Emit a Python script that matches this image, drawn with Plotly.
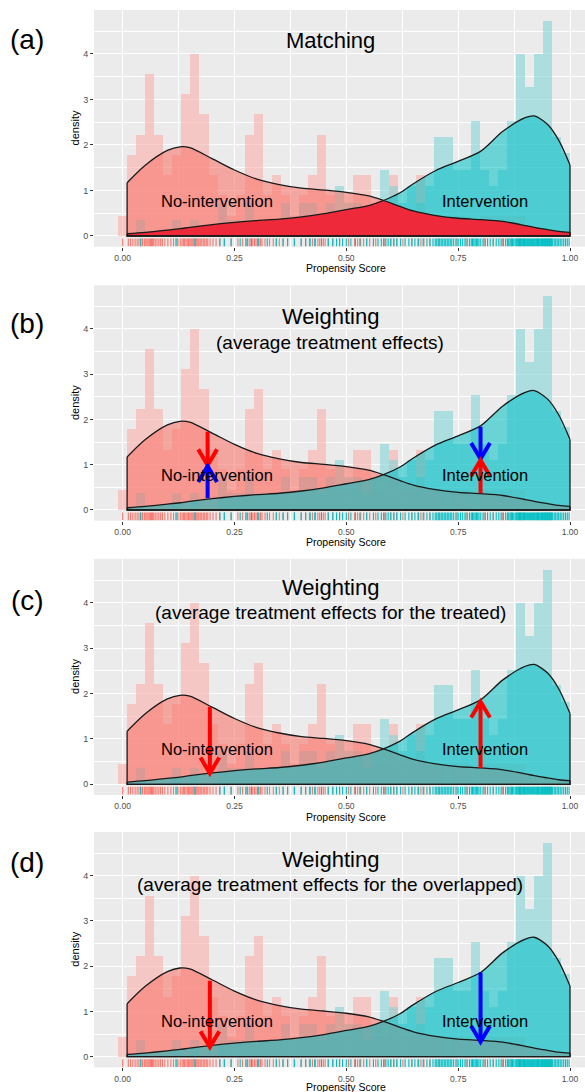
import numpy as np
import plotly.graph_objects as go

W, H = 585, 1092

# ---------------- data ----------------
BIN_START = -0.01
BIN_WIDTH = 0.0202

hist_no_intervention = [0.44, 1.78, 2.22, 3.55, 2.22, 1.33, 1.78, 3.11, 4.00, 2.67,
                        1.33, 0.89, 0.44, 0.89, 2.22, 2.67, 0.89, 1.33, 0.89, 0.44,
                        0.89, 1.33, 2.22, 0.89, 0.44, 0.44, 1.33, 1.33, 0.44, 0.44,
                        1.33, 0.44, 0.44, 1.33, 0.44, 0.44, 0.00, 0.44, 0.44, 0.00,
                        0.44, 0.44, 0.44, 0.44, 0.44, 0.00, 0.00, 0.00, 0.00, 0.00]
hist_intervention = [0.00, 0.00, 0.36, 0.00, 0.00, 0.00, 0.36, 0.00, 0.36, 0.00,
                     0.00, 0.73, 0.36, 0.36, 0.73, 0.36, 0.36, 0.36, 0.73, 0.36,
                     0.73, 0.73, 0.36, 0.73, 1.09, 0.73, 0.73, 0.36, 0.73, 1.45,
                     1.09, 0.73, 1.09, 0.73, 1.09, 2.18, 2.18, 1.45, 1.45, 2.53,
                     1.45, 1.09, 1.45, 2.53, 4.00, 3.27, 4.00, 4.73, 2.18, 1.82]
UNIT_NO = 0.444   # density of one observation (no-intervention)
UNIT_INT = 0.364  # density of one observation (intervention)

dens_x = [0.01, 0.05, 0.10, 0.128, 0.15, 0.20, 0.25, 0.30, 0.35, 0.40, 0.45, 0.50,
          0.55, 0.583, 0.62, 0.65, 0.70, 0.75, 0.80, 0.85, 0.90, 0.92, 0.95, 0.975, 1.00]
dens_no = [1.17, 1.55, 1.88, 1.96, 1.94, 1.70, 1.45, 1.25, 1.13, 1.05, 1.01, 0.96,
           0.88, 0.78, 0.65, 0.55, 0.45, 0.39, 0.36, 0.32, 0.23, 0.19, 0.14, 0.10, 0.08]
dens_int = [0.05, 0.08, 0.13, 0.16, 0.19, 0.25, 0.30, 0.34, 0.37, 0.42, 0.49, 0.58,
            0.67, 0.78, 0.95, 1.15, 1.44, 1.64, 1.86, 2.30, 2.60, 2.64, 2.45, 2.10, 1.56]

x_ticks = [0.0, 0.25, 0.5, 0.75, 1.0]
x_tick_labels = ["0.00", "0.25", "0.50", "0.75", "1.00"]
y_ticks = [0, 1, 2, 3, 4]
y_tick_labels = ["0", "1", "2", "3", "4"]

panel_letters = ["(a)", "(b)", "(c)", "(d)"]
panel_titles = ["Matching", "Weighting", "Weighting", "Weighting"]
panel_subtitles = ["", "(average treatment effects)",
                   "(average treatment effects for the treated)",
                   "(average treatment effects for the overlapped)"]

# arrows: (x, y_from, y_to, color)
arrows = {
    1: [(0.19, 1.73, 0.99, "red"), (0.19, 0.26, 0.97, "blue"),
        (0.80, 1.84, 1.13, "blue"), (0.80, 0.37, 1.10, "red")],
    2: [(0.195, 1.71, 0.24, "red"), (0.80, 0.36, 1.82, "red")],
    3: [(0.195, 1.68, 0.21, "red"), (0.80, 1.86, 0.33, "blue")],
}

# ---------------- geometry / style ----------------
XR = [-0.064, 1.0335]
YR = [-0.2365, 4.966]
PANEL_Y0 = [236, 510, 784.3, 1056.7]
PANEL_UNIT = [45.5, 45.25, 45.4, 45.25]
TITLE_Y = [41, 316, 587, 859]
SUB_Y = [None, 342, 612, 884]
LETTER_Y = [40, 323, 600, 862]
XTITLE_OFFSET = [21.5, 21.5, 21.5, 20.0]

FONT = "Liberation Sans, Arial, sans-serif"
PINK_FILL = "rgba(248,118,109,0.60)"
TEAL_FILL = "rgba(0,191,196,0.55)"
PINK_BAR = "rgba(250,172,167,0.58)"
TEAL_BAR = "rgba(125,212,214,0.58)"
OVERLAP_RED = "rgb(238,42,58)"
RUG_RED = "#F8766D"
RUG_TEAL = "#00BFC4"


def ppy(p):
    return 1 - p / H


centers = BIN_START + BIN_WIDTH * (np.arange(len(hist_no_intervention)) + 0.5)
edges_left = BIN_START + BIN_WIDTH * np.arange(len(hist_no_intervention))


def rug_positions(hist, unit):
    xs = []
    for left, h in zip(edges_left, hist):
        c = int(round(h / unit))
        for j in range(c):
            xs.append(left + (j + 0.5) * BIN_WIDTH / c)
    return xs


rug_no = rug_positions(hist_no_intervention, UNIT_NO)
rug_int = rug_positions(hist_intervention, UNIT_INT)


def seg_xy(xs, y0, y1):
    X, Y = [], []
    for x in xs:
        X += [x, x, None]
        Y += [y0, y1, None]
    return X, Y


def note(x, y, text, size, xref="paper", yref="paper", angle=0):
    return dict(x=x, y=y, xref=xref, yref=yref, text=text, showarrow=False,
                xanchor="center", yanchor="middle", textangle=angle, borderpad=0,
                font=dict(size=size, family=FONT, color="black"))


fig = go.Figure()
annotations = []

for i in range(4):
    sfx = "" if i == 0 else str(i + 1)
    xa, ya = "x" + sfx, "y" + sfx
    top = PANEL_Y0[i] - YR[1] * PANEL_UNIT[i]
    bot = PANEL_Y0[i] - YR[0] * PANEL_UNIT[i]

    fig.update_layout(**{
        "xaxis" + sfx: dict(domain=[94 / W, 1.0], range=XR, anchor=ya, automargin=False,
                             tickvals=x_ticks, ticktext=x_tick_labels,
                             ticks="outside", ticklen=3, tickcolor="#333333",
                             tickfont=dict(size=8.5, color="#4D4D4D", family=FONT),
                             showgrid=True, gridcolor="white", gridwidth=1.1,
                             minor=dict(dtick=0.125, tick0=0, showgrid=True,
                                        gridcolor="white", gridwidth=0.5),
                             zeroline=False, showline=False, fixedrange=True),
        "yaxis" + sfx: dict(domain=[ppy(bot), ppy(top)], range=YR, anchor=xa, automargin=False,
                             tickvals=y_ticks, ticktext=y_tick_labels,
                             ticks="outside", ticklen=3, tickcolor="#333333",
                             tickfont=dict(size=9, color="#4D4D4D", family=FONT),
                             showgrid=True, gridcolor="white", gridwidth=1.1,
                             minor=dict(dtick=0.5, tick0=0, showgrid=True,
                                        gridcolor="white", gridwidth=0.5),
                             zeroline=False, showline=False, fixedrange=True),
    })

    # density fills
    fig.add_trace(go.Scatter(x=dens_x, y=dens_no, mode="lines", fill="tozeroy",
                             fillcolor=PINK_FILL, line=dict(width=0, shape="spline", smoothing=0.8),
                             xaxis=xa, yaxis=ya, hoverinfo="skip", showlegend=False))
    fig.add_trace(go.Scatter(x=dens_x, y=dens_int, mode="lines", fill="tozeroy",
                             fillcolor=TEAL_FILL, line=dict(width=0, shape="spline", smoothing=0.8),
                             xaxis=xa, yaxis=ya, hoverinfo="skip", showlegend=False))

    # histograms
    fig.add_trace(go.Bar(x=centers, y=hist_no_intervention, width=BIN_WIDTH,
                         marker=dict(color=PINK_BAR, line=dict(width=0)),
                         xaxis=xa, yaxis=ya, hoverinfo="skip", showlegend=False))
    fig.add_trace(go.Bar(x=centers, y=hist_intervention, width=BIN_WIDTH,
                         marker=dict(color=TEAL_BAR, line=dict(width=0)),
                         xaxis=xa, yaxis=ya, hoverinfo="skip", showlegend=False))

    if i == 0:
        overlap = np.minimum(dens_no, dens_int)
        fig.add_trace(go.Scatter(x=dens_x, y=overlap, mode="lines", fill="tozeroy",
                                 fillcolor=OVERLAP_RED,
                                 line=dict(width=0, shape="spline", smoothing=0.8),
                                 xaxis=xa, yaxis=ya, hoverinfo="skip", showlegend=False))

    # outlines
    for dens in (dens_no, dens_int):
        fig.add_trace(go.Scatter(x=dens_x, y=dens, mode="lines",
                                 line=dict(color="#1a1a1a", width=1.3, shape="spline", smoothing=0.8),
                                 xaxis=xa, yaxis=ya, hoverinfo="skip", showlegend=False))
        fig.add_trace(go.Scatter(x=[dens_x[0], dens_x[0], dens_x[-1], dens_x[-1]],
                                 y=[dens[0], 0, 0, dens[-1]], mode="lines",
                                 line=dict(color="#1a1a1a", width=1.3),
                                 xaxis=xa, yaxis=ya, hoverinfo="skip", showlegend=False))

    # rug
    rug_top = YR[0] + 0.035 * (YR[1] - YR[0])
    for xs, col in ((rug_no, RUG_RED), (rug_int, RUG_TEAL)):
        X, Y = seg_xy(xs, YR[0] + 0.01, rug_top)
        fig.add_trace(go.Scatter(x=X, y=Y, mode="lines", line=dict(color=col, width=1.1),
                                 xaxis=xa, yaxis=ya, hoverinfo="skip", showlegend=False))

    # arrows
    for (ax_, y_from, y_to, col) in arrows.get(i, []):
        sgn = 1 if y_to < y_from else -1
        dx, dy = 0.021, 0.35
        fig.add_trace(go.Scatter(x=[ax_, ax_], y=[y_from, y_to], mode="lines",
                                 line=dict(color=col, width=4),
                                 xaxis=xa, yaxis=ya, hoverinfo="skip", showlegend=False))
        fig.add_trace(go.Scatter(x=[ax_ - dx, ax_, ax_ + dx],
                                 y=[y_to + sgn * dy, y_to, y_to + sgn * dy], mode="lines",
                                 line=dict(color=col, width=4),
                                 xaxis=xa, yaxis=ya, hoverinfo="skip", showlegend=False))

    # in-plot labels
    annotations.append(note(0.21, 0.78, "No-intervention", 16.5, xa, ya))
    annotations.append(note(0.81, 0.78, "Intervention", 16.5, xa, ya))

    # panel letter, titles
    annotations.append(note(27 / W, ppy(LETTER_Y[i]), panel_letters[i], 28))
    annotations.append(note(330 / W, ppy(TITLE_Y[i]), panel_titles[i], 22))
    if panel_subtitles[i]:
        annotations.append(note(330 / W, ppy(SUB_Y[i]), panel_subtitles[i], 19))

    # axis titles
    annotations.append(note((122.7 + 0.5 * 447.3) / W, ppy(bot + XTITLE_OFFSET[i]),
                            "Propensity Score", 10.5))
    annotations.append(note(75 / W, ppy((top + bot) / 2), "density", 11, angle=-90))

fig.update_layout(width=W, height=H, margin=dict(l=0, r=0, t=0, b=0),
                  paper_bgcolor="white", plot_bgcolor="#EBEBEB",
                  barmode="overlay", bargap=0, showlegend=False,
                  annotations=annotations, font=dict(family=FONT))

fig.write_html("out.html", config={"displayModeBar": False},
               post_script="document.body.style.margin='0';document.body.style.padding='0';"
                           "document.body.style.overflow='hidden';")
